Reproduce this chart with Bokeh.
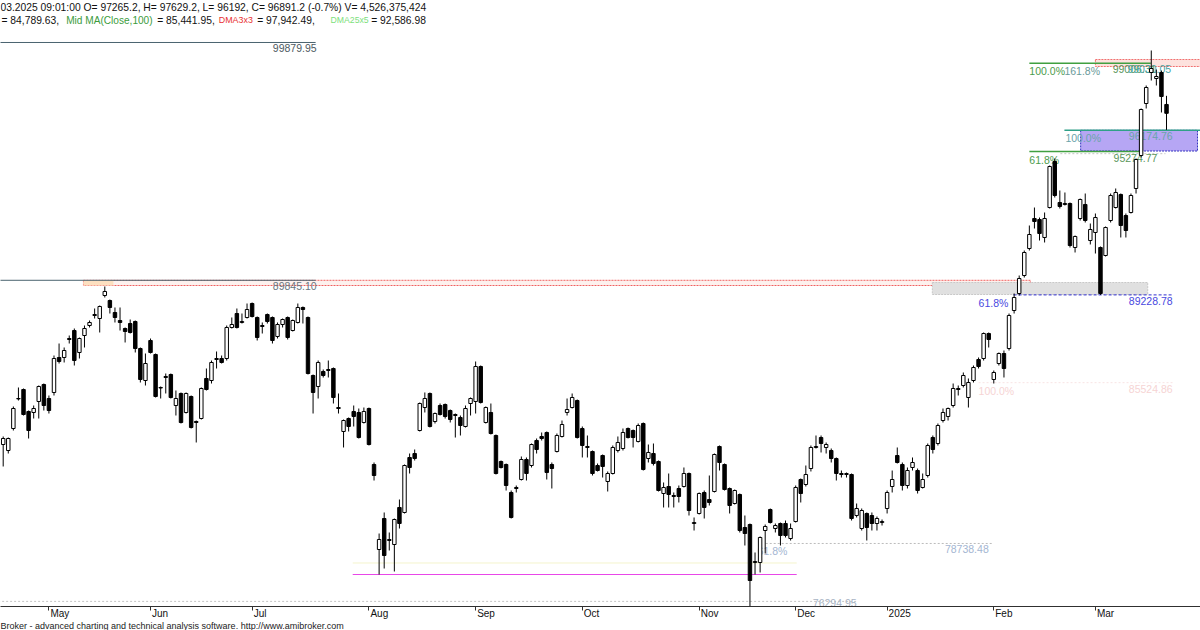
from bokeh.plotting import figure
from bokeh.models import Range1d, FixedTicker, Label, ColumnDataSource, LinearAxis, Title
from bokeh.embed import file_html
from bokeh.resources import INLINE
from bokeh.core.properties import value

# ---------------- data (daily bars) ----------------
bar_open = [82915, 82662, 83590, 84840, 85236, 84308, 84266, 84730, 85447, 84856,
            85110, 86587, 86587, 87346, 87726, 86798, 87515, 87937, 88359, 88232,
            89203, 88992, 88486, 88148, 87810, 88021, 88106, 86966, 85616, 87304,
            86713, 85300, 85743, 85869, 84561, 85068, 84266, 84941, 83886, 84012,
            85701, 85616, 86502, 86544, 86544, 87853, 88443, 88064, 88275, 88865,
            88275, 87895, 88401, 88275, 87473, 87979, 88275, 87726, 88064, 88697,
            88275, 85827, 85363, 85996, 86038, 86122, 84476, 83464, 84012, 84308,
            84266, 83844, 84434, 82071, 78484, 79792, 78864, 78695, 80257, 80046,
            82367, 82535, 83506, 84476, 85068, 83886, 84561, 84603, 84350, 84139,
            84055, 83675, 84645, 84730, 86207, 83844, 84266, 83295, 82198, 82071,
            80890, 81058, 81438, 82282, 82029, 83084, 83253, 83422, 82071, 82620,
            83253, 84266, 84476, 84772, 83590, 82789, 82620, 82029, 82451, 81354,
            81691, 82662, 82746, 83590, 83506, 83042, 83801, 82324, 82535, 82198,
            80847, 81143, 80721, 81058, 81143, 81691, 79581, 80004, 80890, 80594,
            80932, 82831, 82071, 81058, 80425, 80805, 79413, 79539, 77936, 77936,
            79286, 80172, 79370, 79581, 79581, 78948, 79665, 81438, 81227, 81902,
            82789, 83210, 82789, 82662, 82324, 81691, 81649, 81649, 79919, 79370,
            80004, 79919, 79581, 79623, 80215, 81143, 82451, 82071, 81185, 81945,
            81818, 81101, 81607, 83210, 82957, 83928, 84097, 84561, 85236, 85405,
            84899, 85616, 86502, 86544, 87599, 85658, 86333, 86755, 86966, 88570,
            89287, 90047, 91186, 92452, 92410, 91651, 92916, 94858, 93128, 93044,
            93086, 91229, 92452, 93044, 91524, 91862, 91229, 90891, 92368, 92916,
            93466, 92579, 92706, 93719, 95111, 97305, 98614, 98360, 98614, 97265.2]
bar_high = [83253, 83210, 84519, 85321, 85278, 84350, 84561, 85405, 85489, 84983,
            86671, 87177, 87009, 87515, 87810, 87431, 87937, 88148, 88654, 88781,
            89583, 89034, 88697, 88697, 87853, 88190, 88148, 87009, 86755, 87388,
            86755, 85363, 85911, 85911, 85194, 85110, 85110, 84983, 83928, 85321,
            86122, 86460, 86840, 86671, 87937, 88275, 88654, 88443, 88865, 88908,
            88317, 88064, 88443, 88317, 88064, 88232, 88317, 88190, 88865, 88739,
            88317, 85869, 86460, 86080, 86460, 86165, 85068, 83970, 84055, 84561,
            84434, 84476, 84476, 82156, 79159, 80046, 79202, 79792, 80594, 82071,
            82535, 82704, 84688, 85110, 85110, 84266, 84645, 84645, 84392, 84223,
            84139, 84561, 84899, 86418, 86249, 84519, 84645, 83337, 82240, 82113,
            80974, 81185, 82409, 82367, 82957, 83168, 83422, 83464, 82156, 83379,
            83928, 84856, 85068, 84814, 83675, 83295, 82662, 82113, 82493, 81776,
            82873, 83253, 83590, 83633, 83548, 83801, 83844, 82915, 82957, 82240,
            81312, 81691, 80890, 81185, 81945, 81733, 79835, 80890, 80974, 81607,
            82535, 82873, 82113, 81101, 81016, 80847, 79919, 79581, 78358, 79033,
            79539, 80215, 79581, 79623, 79708, 79581, 81185, 81480, 82029, 82873,
            83295, 83295, 83000, 82746, 82367, 81818, 81733, 81691, 80425, 80215,
            80046, 80046, 79877, 79750, 80974, 81818, 82789, 82156, 81945, 82367,
            81902, 81691, 82957, 83295, 83801, 84434, 84476, 85489, 85405, 85954,
            85701, 86249, 86587, 87642, 87642, 86038, 86798, 86882, 88443, 89287,
            90047, 91102, 92157, 92916, 92494, 92706, 94689, 94985, 93634, 93550,
            93128, 91735, 93296, 93507, 92241, 92663, 91271, 92115, 93507, 93719,
            93507, 92663, 93507, 94985, 97094, 98065, 99542, 98740, 98698, 97629.2]
bar_low = [81987, 82535, 83506, 84772, 84139, 83168, 84012, 84012, 84350, 84223,
           84983, 86333, 86376, 87177, 86249, 86544, 87009, 87853, 88232, 87642,
           89119, 88443, 88064, 87726, 87220, 87599, 86798, 85532, 85405, 86755,
           84899, 84856, 85068, 84856, 84139, 83801, 84223, 83590, 83000, 83970,
           85194, 85489, 86122, 86333, 86460, 87810, 87810, 88021, 88232, 88275,
           87304, 87599, 88021, 87177, 87388, 87853, 87346, 87684, 88021, 88021,
           85869, 84223, 84856, 85743, 85743, 84645, 84223, 82789, 83464, 83675,
           83168, 83801, 82873, 81396, 77429, 77682, 78442, 77556, 79370, 80004,
           81691, 82240, 83464, 84266, 83633, 83801, 84139, 84012, 83844, 83210,
           83295, 83633, 84139, 84223, 84645, 83801, 83337, 81649, 81902, 80974,
           79792, 80890, 81396, 81396, 81945, 82535, 83084, 81438, 81058, 82578,
           83210, 84139, 84434, 83168, 82367, 82367, 81607, 81776, 81522, 80932,
           81649, 82578, 82662, 83168, 82789, 83000, 81818, 82156, 82029, 80932,
           80257, 80257, 80257, 80468, 81101, 79919, 79286, 79961, 79792, 80341,
           80890, 81818, 80974, 80004, 80383, 79202, 78653, 76037, 77429, 77514,
           78315, 79581, 79202, 78653, 78991, 78864, 79623, 80468, 81143, 81776,
           82746, 82578, 82535, 82156, 81396, 81522, 81522, 79708, 79835, 79286,
           78864, 79286, 79286, 79497, 80004, 80890, 82113, 80974, 81058, 81818,
           80847, 81058, 81522, 82535, 82873, 83844, 83928, 84476, 84983, 85321,
           84476, 85532, 86122, 86460, 87009, 85489, 86249, 85743, 86882, 88443,
           89203, 89962, 91102, 92030, 91524, 91440, 92874, 93339, 92874, 93001,
           91229, 91018, 92368, 92284, 91356, 90975, 89229, 90849, 92284, 92874,
           91651, 91651, 92663, 93507, 95027, 97094, 98276, 98065, 96926, 96192]
bar_close = [83168, 83168, 84434, 84856, 84181, 83506, 84434, 85363, 84561, 84350,
             86544, 86418, 86882, 87388, 86460, 87388, 87810, 88064, 88401, 88739,
             89372, 88697, 88275, 88064, 87684, 87642, 86966, 85658, 86333, 86798,
             84941, 85321, 85785, 84899, 84856, 83844, 85068, 83633, 83844, 85278,
             85236, 86376, 86544, 86376, 87853, 87979, 87853, 88106, 88612, 88317,
             87431, 87937, 88106, 87304, 87979, 88190, 87431, 88148, 88697, 88612,
             85911, 85110, 86376, 85827, 86080, 84899, 84434, 83928, 83675, 84097,
             83210, 84308, 82915, 81607, 78906, 78231, 78906, 79750, 79581, 82029,
             81945, 82324, 84645, 84856, 83675, 84223, 84181, 84097, 83970, 84181,
             83717, 84434, 84856, 86207, 84688, 84476, 83379, 81691, 81945, 81185,
             79835, 81101, 82282, 81691, 82915, 82704, 83168, 81733, 81902, 83295,
             83759, 84392, 84899, 83210, 82873, 82831, 81691, 81818, 81987, 81691,
             82789, 83000, 83422, 83210, 83210, 83717, 81860, 82578, 82113, 80974,
             81101, 80805, 80763, 80721, 81691, 80130, 79623, 80847, 80257, 80468,
             82493, 82156, 81016, 80341, 80974, 79286, 79159, 77176, 77978, 78991,
             79455, 79623, 79497, 79075, 79075, 79370, 81101, 80847, 81649, 82789,
             82831, 82957, 82915, 82324, 81691, 81649, 81691, 79792, 80215, 80130,
             79413, 79581, 79792, 79665, 80890, 81438, 82156, 81185, 81818, 82156,
             80974, 81438, 82873, 82704, 83717, 84266, 84434, 85278, 85278, 85827,
             85532, 86165, 86207, 87599, 87346, 85954, 86755, 86122, 88359, 89119,
             89920, 91018, 91777, 92326, 91819, 92452, 94647, 93423, 92959, 93086,
             91313, 91693, 93254, 92368, 91988, 92494, 89287, 92072, 93423, 93550,
             92157, 91946, 93423, 94942, 97052, 97980, 98782, 98445, 97601, 96891.2]

month_ticks = [9, 29, 49, 72, 93, 114, 137, 156, 174, 195, 215]
month_labels = ["May", "Jun", "Jul", "Aug", "Sep", "Oct", "Nov", "Dec", "2025", "Feb", "Mar"]

# study levels (prices) and the bars they span
slate_price = [99879.95, 89845.10]
slate_label = ["99879.95", "89845.10"]
slate_from, slate_to = -1, 61.5

fib_price = [99006.0, 96174.76, 95274.77, 89228.78, 85524.86, 78738.48]
fib_label = ["99006.31", "96174.76", "95274.77", "89228.78", "85524.86", "78738.48"]
fib_pct = ["100.0%", "100.0%", "61.8%", "61.8%", "100.0%", "61.8%"]

zone_top = [89845.10, 99162, 96174.76, 89752]
zone_bottom = [89625, 98867, 95300, 89245]
zone_from = [15.8, 215.0, 212.1, 182.9]
zone_to = [202.2, 236.0, 235.1, 225.3]

support_price = 77429      # magenta
faint_price = 77915        # faint yellow
low_level = 76294.95
low_level_label = "76294.95"
gray_dot_price = 95188

header1 = "03.2025 09:01:00 O= 97265.2, H= 97629.2, L= 96192, C= 96891.2 (-0.7%) V= 4,526,375,424"
header2 = ["= 84,789.63,", "Mid MA(Close,100)", "= 85,441.95,", "DMA3x3", "= 97,942.49,", "DMA25x5", "= 92,586.98"]
footer = "Broker - advanced charting and technical analysis software. http://www.amibroker.com"

# ---------------- figure ----------------
FONT = value("Liberation Sans")
FONTS = "Liberation Sans"
W, H, BOT = 1200, 630, 24
FH = H - BOT
PX_PER_BAR = 5.08

p = figure(width=W, height=H, x_range=Range1d(-0.531, 235.69), y_range=Range1d(76079, 101652),
           output_backend="svg", toolbar_location=None, y_axis_location=None,
           min_border_left=0, min_border_right=0, min_border_top=0, min_border_bottom=BOT,
           outline_line_color=None, background_fill_color="white", border_fill_color="white")
p.grid.visible = False

# axis 1: axis line + tick marks at month starts
ax = p.xaxis[0]
ax.ticker = FixedTicker(ticks=month_ticks)
ax.major_label_overrides = {t: "" for t in month_ticks}
ax.major_label_text_font_size = "0px"
ax.major_label_text_line_height = 0
ax.major_label_standoff = 0
ax.major_tick_out = 4
ax.major_tick_in = 0
ax.minor_tick_line_color = None
ax.axis_line_color = "#303030"
ax.major_tick_line_color = "#303030"

# axis 2: month names, written just right of their tick
label_w = {"May": 18.9, "Jun": 16.1, "Jul": 12.8, "Aug": 17.8, "Sep": 17.8, "Oct": 15.6,
           "Nov": 17.8, "Dec": 17.8, "2025": 22.2, "Feb": 17.2, "Mar": 17.2}
label_pos = [t + (1.5 + label_w[l] / 2) / PX_PER_BAR for t, l in zip(month_ticks, month_labels)]
ax2 = LinearAxis(ticker=FixedTicker(ticks=label_pos),
                 major_label_overrides={pos: l for pos, l in zip(label_pos, month_labels)},
                 major_tick_out=0, major_tick_in=0, minor_tick_line_color=None,
                 axis_line_color=None, major_tick_line_color=None, major_label_standoff=-3,
                 major_label_text_font=FONTS, major_label_text_font_size="10px",
                 major_label_text_line_height=1.0, major_label_text_color="#111111")
p.add_layout(ax2, "below")
p.add_layout(Title(text=footer, align="left", vertical_align="middle", text_font=FONTS,
                   text_font_size="9px", text_font_style="normal", text_color="#222222",
                   standoff=-3, text_line_height=1.0), "below")

idx = list(range(len(bar_close)))

# zones
zone_fill = ["#fdf1ee", "#fde2de", "#b6a6f4", "#e0e0e0"]
zone_line = ["#f06060", "#f07070", "#3434c0", "#c8c8c8"]
for t, b, x0, x1, fc, lc in zip(zone_top, zone_bottom, zone_from, zone_to, zone_fill, zone_line):
    p.quad(left=x0, right=x1, top=t, bottom=b, fill_color=fc, line_color=lc, line_dash="2 1", line_width=1)
# orange start of the red band
p.quad(left=zone_from[0], right=21.7, top=zone_top[0], bottom=zone_bottom[0], fill_color="#fde0c0", line_color=None)

# slate horizontal lines
for pr, lb in zip(slate_price, slate_label):
    p.segment(x0=slate_from, y0=pr, x1=slate_to, y1=pr, line_color="#4a6470", line_width=1)
p.text(x=[61.7, 61.7], y=slate_price, text=slate_label, text_align="right", text_baseline="top",
       y_offset=2, text_font=FONT, text_font_size="10.5px", text_color=["#4e5a62", "#6a767e"])

# fib lines
p.segment(x0=202.0, y0=fib_price[0], x1=225.9, y1=fib_price[0], line_color="#40a040", line_width=1.5)
p.segment(x0=208.9, y0=fib_price[1], x1=236.0, y1=fib_price[1], line_color="#30a088", line_width=1.5)
p.segment(x0=202.0, y0=fib_price[2], x1=224.3, y1=fib_price[2], line_color="#40a040", line_width=1.5)
p.segment(x0=208.1, y0=gray_dot_price, x1=228.8, y1=gray_dot_price, line_color="#c4c4c4", line_dash="2 2")
p.segment(x0=198.9, y0=fib_price[3], x1=230.2, y1=fib_price[3], line_color="#3030d0", line_dash="3 2")
p.segment(x0=192.0, y0=fib_price[4], x1=230.2, y1=fib_price[4], line_color="#f8e4e4", line_dash="2 2")
p.segment(x0=150.1, y0=fib_price[5], x1=194.7, y1=fib_price[5], line_color="#bcbcbc", line_dash="2 2")
p.segment(x0=-1, y0=low_level, x1=168.0, y1=low_level, line_color="#c4c4c4", line_dash="2 2")
p.segment(x0=68.8, y0=faint_price, x1=156.2, y1=faint_price, line_color="#f4f4cc", line_width=1)
p.segment(x0=68.8, y0=support_price, x1=156.2, y1=support_price, line_color="#e848e8", line_width=1.2)

# fib texts
pct_x = [202.0, 209.1, 202.0, 192.0, 192.0, 148.5]
pct_col = ["#4c9c4c", "#6aa4aa", "#4c9c4c", "#4848e0", "#f6d4d4", "#a4b6d2"]
p.text(x=pct_x, y=fib_price, text=fib_pct, text_align="left", text_baseline="top", y_offset=2,
       text_font=FONT, text_font_size="10.5px", text_color=pct_col)
p.text(x=[208.9], y=[fib_price[0]], text=["161.8%"], text_align="left", text_baseline="top", y_offset=2,
       text_font=FONT, text_font_size="10.5px", text_color="#6a9a9a")
val_x = [218.4, 230.2, 227.2, 230.2, 230.2, 194.0]
val_al = ["left", "right", "right", "right", "right", "right"]
val_col = ["#5a965a", "#6aa4aa", "#5a965a", "#4848e0", "#f6d4d4", "#a4b6d2"]
p.text(x=val_x, y=fib_price, text=fib_label, text_align=val_al, text_baseline="top", y_offset=2,
       text_font=FONT, text_font_size="10.5px", text_color=val_col)
p.text(x=[221.3], y=[fib_price[0]], text=["99030.05"], text_align="left", text_baseline="top", y_offset=2,
       text_font=FONT, text_font_size="10.5px", text_color="#4aa4a4")
p.text(x=[168.0], y=[low_level], text=[low_level_label], text_align="right", text_baseline="top", y_offset=-2,
       text_font=FONT, text_font_size="10.5px", text_color="#a8b4c4")

# candles
up = [c >= o for o, c in zip(bar_open, bar_close)]
src = ColumnDataSource(dict(
    x=idx, high=bar_high, low=bar_low,
    top=[max(o, c) for o, c in zip(bar_open, bar_close)],
    bottom=[min(o, c) for o, c in zip(bar_open, bar_close)],
    fill=["white" if u else "black" for u in up]))
p.segment(x0="x", y0="low", x1="x", y1="high", source=src, line_color="black", line_width=1)
p.vbar(x="x", width=0.68, top="top", bottom="bottom", source=src, fill_color="fill",
       line_color="black", line_width=1)

# header texts (screen units, measured from the frame's bottom-left)
hy1 = FH - 6.5
hy2 = FH - 19.5
p.add_layout(Label(x=0, y=hy1, x_units="screen", y_units="screen", text=header1, text_font=FONTS,
                   text_font_size="10.3px", text_baseline="middle", text_color="#111111"))
seg_x = [1, 65.7, 156.7, 218.3, 256.7, 330, 370.7]
seg_size = ["10.3px", "10.1px", "10.3px", "8.9px", "10.3px", "8.7px", "10.3px"]
seg_col = ["#111111", "#3c9c3c", "#111111", "#e83030", "#111111", "#7ce07c", "#111111"]
for sx, tx, fs, col in zip(seg_x, header2, seg_size, seg_col):
    p.add_layout(Label(x=sx, y=hy2, x_units="screen", y_units="screen", text=tx, text_font=FONTS,
                       text_font_size=fs, text_baseline="middle", text_color=col))

open("out.html", "w").write(file_html(p, INLINE))
